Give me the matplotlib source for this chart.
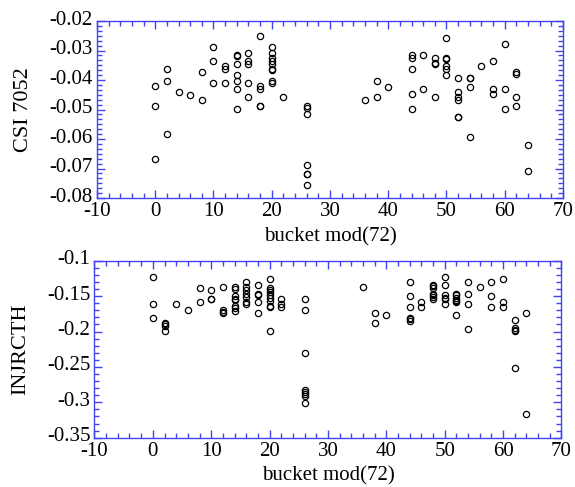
import matplotlib
matplotlib.use("Agg")
import matplotlib.pyplot as plt
import matplotlib.transforms as mtransforms
from matplotlib.ticker import MultipleLocator, AutoMinorLocator, FuncFormatter

# ---------------- data ----------------
bucket_top = ([0]*3 + [2]*3 + [4] + [6] + [8]*2 + [10]*3 + [12]*3 + [14]*7 + [16]*5 +
              [18]*5 + [20]*9 + [22] + [26]*7 + [36] + [38]*2 + [40] + [44]*5 +
              [46]*2 + [48]*4 + [50]*6 + [52]*6 + [54]*4 + [56] + [58]*3 + [60]*3 +
              [62]*4 + [64]*2)
csi_7052 = [-0.0421, -0.0487, -0.0668,
            -0.0363, -0.0402, -0.0583,
            -0.0440,
            -0.0450,
            -0.0373, -0.0468,
            -0.0288, -0.0335, -0.0411,
            -0.0354, -0.0363, -0.0411,
            -0.0315, -0.0317, -0.0345, -0.0382, -0.0402, -0.0430, -0.0497,
            -0.0307, -0.0335, -0.0344, -0.0411, -0.0459,
            -0.0250, -0.0420, -0.0430, -0.0487, -0.0487,
            -0.0288, -0.0307, -0.0326, -0.0335, -0.0344, -0.0363, -0.0366, -0.0402, -0.0411,
            -0.0459,
            -0.0488, -0.0496, -0.0516, -0.0688, -0.0717, -0.0717, -0.0755,
            -0.0468,
            -0.0402, -0.0459,
            -0.0422,
            -0.0314, -0.0325, -0.0363, -0.0449, -0.0497,
            -0.0316, -0.0430,
            -0.0325, -0.0343, -0.0345, -0.0459,
            -0.0259, -0.0325, -0.0328, -0.0354, -0.0363, -0.0382,
            -0.0393, -0.0439, -0.0457, -0.0468, -0.0525, -0.0525,
            -0.0393, -0.0393, -0.0422, -0.0592,
            -0.0354,
            -0.0335, -0.0430, -0.0449,
            -0.0278, -0.0430, -0.0497,
            -0.0372, -0.0381, -0.0459, -0.0487,
            -0.0621, -0.0707]

bucket_bot = ([0]*3 + [2]*4 + [4] + [6] + [8]*2 + [10]*3 + [12]*4 + [14]*8 + [16]*7 +
              [18]*5 + [20]*10 + [22]*3 + [26]*8 + [36] + [38]*2 + [40] + [44]*6 +
              [46]*2 + [48]*7 + [50]*6 + [52]*7 + [54]*4 + [56] + [58]*3 + [60]*3 +
              [62]*5 + [64]*2)
injrcth = [-0.1227, -0.1614, -0.1803,
           -0.1879, -0.1898, -0.1926, -0.1992,
           -0.1614,
           -0.1690,
           -0.1388, -0.1577,
           -0.1416, -0.1534, -0.1540,
           -0.1378, -0.1690, -0.1718, -0.1737,
           -0.1369, -0.1406, -0.1500, -0.1539, -0.1558, -0.1643, -0.1671, -0.1709,
           -0.1302, -0.1378, -0.1416, -0.1463, -0.1510, -0.1586, -0.1614,
           -0.1340, -0.1463, -0.1491, -0.1577, -0.1737,
           -0.1265, -0.1388, -0.1416, -0.1444, -0.1491, -0.1520, -0.1567, -0.1643, -0.1650, -0.1992,
           -0.1539, -0.1614, -0.1650,
           -0.1543, -0.1695, -0.2300, -0.2824, -0.2853, -0.2881, -0.2909, -0.3013,
           -0.1378,
           -0.1733, -0.1884,
           -0.1770,
           -0.1307, -0.1500, -0.1652, -0.1803, -0.1827, -0.1855,
           -0.1577, -0.1652,
           -0.1336, -0.1359, -0.1388, -0.1463, -0.1482, -0.1515, -0.1543,
           -0.1232, -0.1340, -0.1491, -0.1529, -0.1543, -0.1614,
           -0.1463, -0.1491, -0.1520, -0.1548, -0.1572, -0.1586, -0.1770,
           -0.1307, -0.1463, -0.1614, -0.1959,
           -0.1378,
           -0.1307, -0.1500, -0.1652,
           -0.1265, -0.1577, -0.1652,
           -0.1841, -0.1955, -0.1974, -0.1992, -0.2522,
           -0.1733, -0.3165]

x_label = "bucket mod(72)"
y_label_top = "CSI 7052"
y_label_bot = "INJRCTH"

# ---------------- style ----------------
plt.rcParams['font.family'] = ['Liberation Serif', 'DejaVu Serif']
plt.rcParams['axes.unicode_minus'] = False
blue = '#4444ee'

fig = plt.figure(figsize=(5.75, 4.87), dpi=100)
ax1 = fig.add_axes([0.1687, 0.5934, 0.8104, 0.3634])
ax2 = fig.add_axes([0.1643, 0.1012, 0.8122, 0.3634])

fmt = FuncFormatter(lambda v, p: ('%g' % round(v, 6)))
lift = mtransforms.ScaledTranslation(0, 3.5 / 100, fig.dpi_scale_trans)

def style(ax, ylo, yhi, ymaj, yminor_n, ylabel):
    ax.set_xlim(-10, 70)
    ax.set_ylim(ylo, yhi)
    ax.xaxis.set_major_locator(MultipleLocator(10))
    ax.xaxis.set_minor_locator(AutoMinorLocator(5))
    ax.yaxis.set_major_locator(MultipleLocator(ymaj))
    ax.yaxis.set_minor_locator(AutoMinorLocator(yminor_n))
    ax.xaxis.set_major_formatter(fmt)
    ax.yaxis.set_major_formatter(fmt)
    for s in ax.spines.values():
        s.set_color(blue)
        s.set_linewidth(1.0)
    ax.tick_params(which='both', direction='in', top=True, right=True,
                   color=blue, width=1.0, labelsize=15, labelcolor='black')
    ax.tick_params(which='major', length=6, pad=3)
    ax.tick_params(which='minor', length=3.6)
    ax.set_xlabel(x_label, fontsize=15, labelpad=4)
    ax.set_ylabel(ylabel, fontsize=16, labelpad=12)
    for lab in ax.get_yticklabels():
        lab.set_transform(lab.get_transform() + lift)

ax1.plot(bucket_top, csi_7052, linestyle='none', marker='o', ms=4.5,
         mfc='none', mec='black', mew=0.9)
style(ax1, -0.08, -0.02, 0.01, 6, y_label_top)

ax2.plot(bucket_bot, injrcth, linestyle='none', marker='o', ms=4.5,
         mfc='none', mec='black', mew=0.9)
style(ax2, -0.35, -0.1, 0.05, 5, y_label_bot)

fig.savefig('out.png', dpi=100)
